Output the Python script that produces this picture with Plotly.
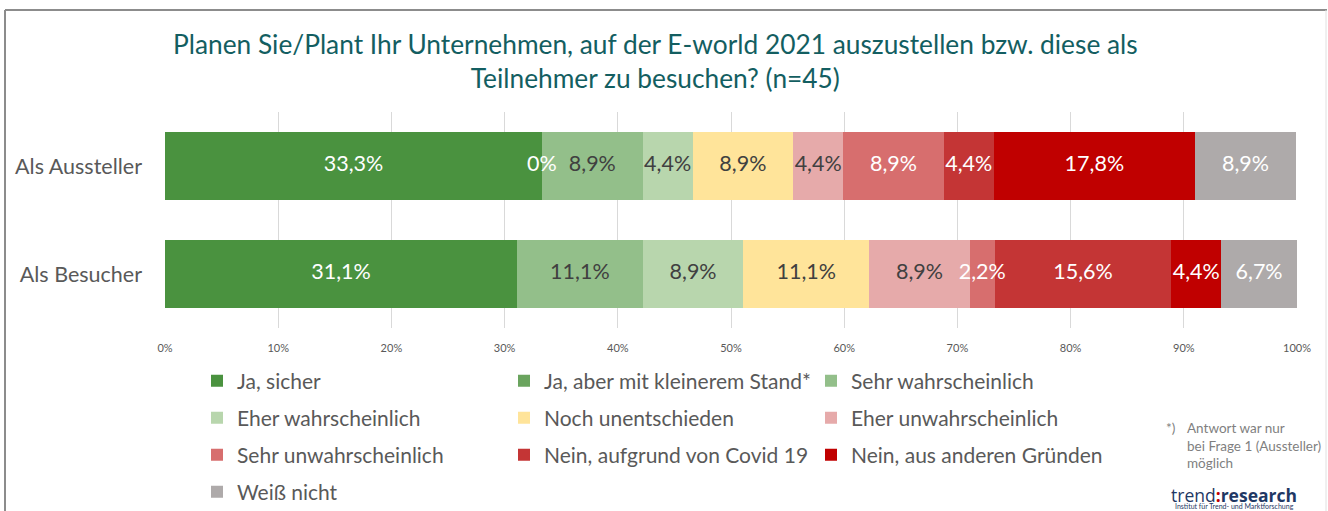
import plotly.graph_objects as go

categories = ["Als Aussteller", "Als Besucher"]
series_names = [
    "Ja, sicher",
    "Ja, aber mit kleinerem Stand*",
    "Sehr wahrscheinlich",
    "Eher wahrscheinlich",
    "Noch unentschieden",
    "Eher unwahrscheinlich",
    "Sehr unwahrscheinlich",
    "Nein, aufgrund von Covid 19",
    "Nein, aus anderen Gründen",
    "Weiß nicht",
]
ja_sicher = [33.3, 31.1]
ja_kleiner = [0.0, None]
sehr_wahrsch = [8.9, 11.1]
eher_wahrsch = [4.4, 8.9]
unentschieden = [8.9, 11.1]
eher_unwahrsch = [4.4, 8.9]
sehr_unwahrsch = [8.9, 2.2]
nein_covid = [4.4, 15.6]
nein_andere = [17.8, 4.4]
weiss_nicht = [8.9, 6.7]
series_values = [ja_sicher, ja_kleiner, sehr_wahrsch, eher_wahrsch, unentschieden,
                 eher_unwahrsch, sehr_unwahrsch, nein_covid, nein_andere, weiss_nicht]
x_tick_values = [0, 10, 20, 30, 40, 50, 60, 70, 80, 90, 100]
x_tick_labels = ["0%", "10%", "20%", "30%", "40%", "50%", "60%", "70%", "80%", "90%", "100%"]

colors = ["#4a923f", "#6aa45e", "#93bf8a", "#b8d6ad", "#ffe49a",
          "#e6aaaa", "#d76e6e", "#c43535", "#c00000", "#aeaaaa"]
text_colors = ["white", "white", "#404040", "#404040", "#404040",
               "#404040", "white", "white", "white", "white"]
legend_ids = ["legend", "legend", "legend",
              "legend2", "legend2", "legend2",
              "legend3", "legend3", "legend3",
              "legend4"]

W, H = 1328, 511
ML, MR, MT, MB = 165, 31, 112, 183
PW, PH = W - ML - MR, H - MT - MB


def px_x(x):
    return (x - ML) / PW


def px_y(y):
    return (H - MB - y) / PH


def fmt(v):
    if v is None:
        return ""
    if v == 0:
        return "0%"
    return f"{v:.1f}%".replace(".", ",")


FONT = "Lato, 'Open Sans', sans-serif"
fig = go.Figure()

# stacked bars
for name, vals, col, lg in zip(series_names, series_values, colors, legend_ids):
    fig.add_trace(go.Bar(
        name=name, y=categories, x=vals, orientation="h",
        marker=dict(color=col, line=dict(width=0)),
        legend=lg, hoverinfo="skip",
    ))

# data labels drawn above all bars (centre of each segment)
cum = [0.0 for _ in categories]
for name, vals, tcol in zip(series_names, series_values, text_colors):
    xs, ys, ts = [], [], []
    for ci, cat in enumerate(categories):
        v = vals[ci]
        if v is not None:
            xs.append(cum[ci] + v / 2)
            ys.append(cat)
            ts.append(fmt(v))
            cum[ci] += v
    fig.add_trace(go.Scatter(
        x=xs, y=ys, text=ts, mode="text", textposition="middle center",
        textfont=dict(size=21.5, color=tcol, family=FONT),
        showlegend=False, hoverinfo="skip", cliponaxis=False,
    ))

annotations = [
    dict(x=px_x(655), y=px_y(61), xref="paper", yref="paper",
         text="Planen Sie/Plant Ihr Unternehmen, auf der E-world 2021 auszustellen bzw. diese als<br>Teilnehmer zu besuchen? (n=45)",
         showarrow=False, xanchor="center", yanchor="middle", align="center",
         font=dict(size=26.3, color="#135e61", family=FONT)),
    dict(x=px_x(1164), y=px_y(428), xref="paper", yref="paper", text="*)",
         showarrow=False, xanchor="left", yanchor="middle",
         font=dict(size=13.5, color="#7f7f7f", family=FONT)),
    dict(x=px_x(1185), y=px_y(418), xref="paper", yref="paper",
         text="Antwort war nur<br>bei Frage 1 (Aussteller)<br>möglich",
         showarrow=False, xanchor="left", yanchor="top", align="left",
         font=dict(size=13.5, color="#7f7f7f", family=FONT)),
    dict(x=px_x(1234), y=px_y(495), xref="paper", yref="paper",
         text="trend<span style='color:#c00000'><b>:</b></span><b>research</b>",
         showarrow=False, xanchor="center", yanchor="middle",
         font=dict(size=17.5, color="#1f3864", family="'Open Sans', sans-serif")),
    dict(x=px_x(1234), y=px_y(506), xref="paper", yref="paper",
         text="Institut für Trend- und Marktforschung",
         showarrow=False, xanchor="center", yanchor="middle",
         font=dict(size=7, color="#1f3864", family=FONT)),
]

shapes = [
    dict(type="line", xref="paper", yref="paper", x0=px_x(5), x1=px_x(1327), y0=px_y(10), y1=px_y(10),
         line=dict(color="#8c8c8c", width=2)),
    dict(type="line", xref="paper", yref="paper", x0=px_x(5), x1=px_x(5), y0=px_y(10), y1=px_y(520),
         line=dict(color="#8c8c8c", width=2)),
    dict(type="line", xref="paper", yref="paper", x0=px_x(1326), x1=px_x(1326), y0=px_y(10), y1=px_y(520),
         line=dict(color="#e0e0e0", width=1)),
]

legend_rows_y = [381, 418, 455, 492]
legend_common = dict(orientation="h", x=px_x(197), xanchor="left", yanchor="middle",
                     entrywidth=262, entrywidthmode="pixels", traceorder="normal",
                     font=dict(size=21, color="#595959", family=FONT),
                     bgcolor="rgba(0,0,0,0)", borderwidth=0)

fig.update_layout(
    width=W, height=H, barmode="stack", bargap=0.37,
    margin=dict(l=ML, r=MR, t=MT, b=MB, autoexpand=False),
    paper_bgcolor="white", plot_bgcolor="white",
    font=dict(family=FONT, color="#595959"),
    xaxis=dict(range=[0, 100], tickmode="array", tickvals=x_tick_values, ticktext=x_tick_labels,
               showgrid=True, gridcolor="#d9d9d9", gridwidth=1, zeroline=False, showline=False,
               tickfont=dict(size=11, color="#595959", family=FONT), ticklabelstandoff=12,
               automargin=False, fixedrange=True),
    yaxis=dict(autorange="reversed", showgrid=False, showline=False, zeroline=False,
               tickfont=dict(size=21.5, color="#595959", family=FONT), ticklabelstandoff=22,
               automargin=False, fixedrange=True),
    legend=dict(y=px_y(legend_rows_y[0]), **legend_common),
    legend2=dict(y=px_y(legend_rows_y[1]), **legend_common),
    legend3=dict(y=px_y(legend_rows_y[2]), **legend_common),
    legend4=dict(y=px_y(legend_rows_y[3]), **legend_common),
    annotations=annotations, shapes=shapes,
    showlegend=True,
)

fig.write_html("out.html")
